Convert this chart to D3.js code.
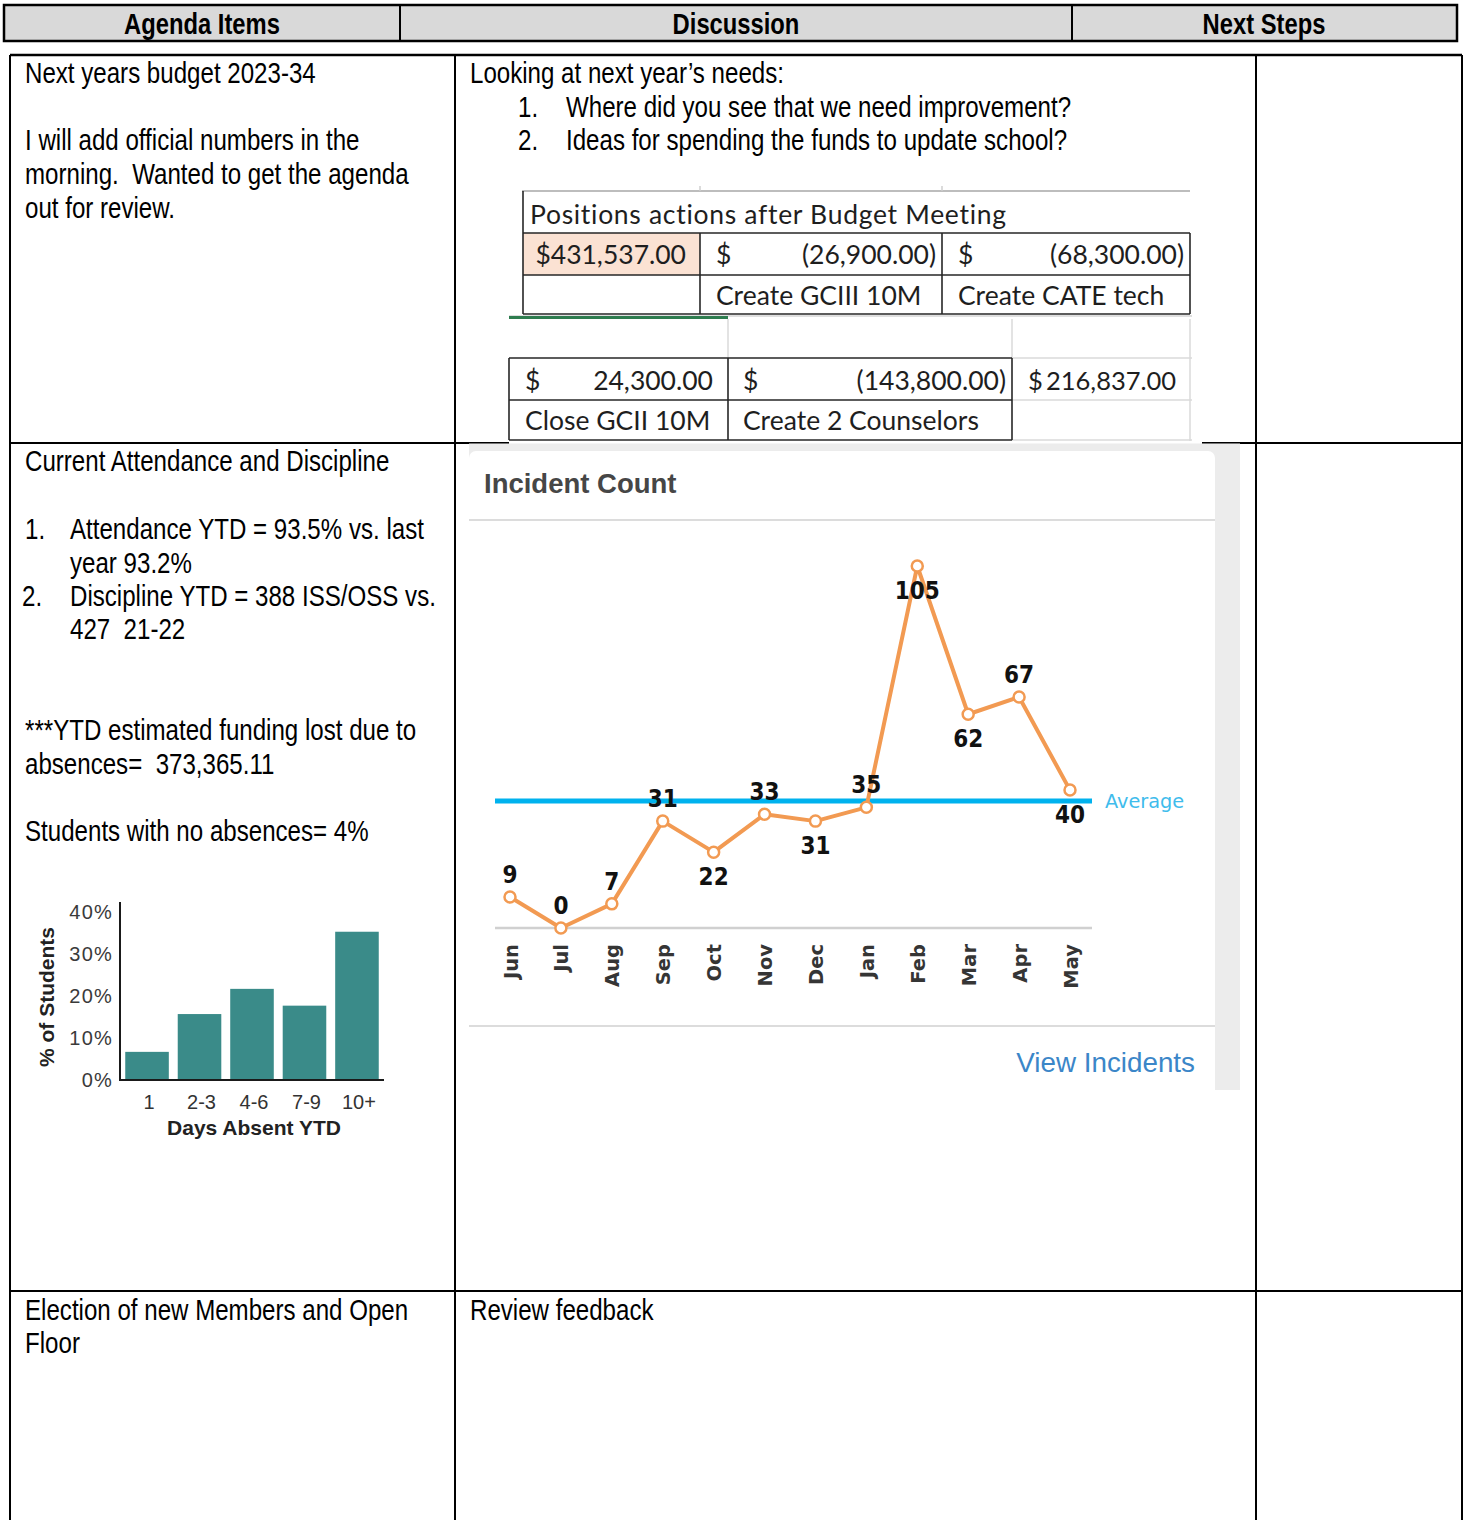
<!DOCTYPE html>
<html><head><meta charset="utf-8">
<script src="https://cdn.jsdelivr.net/npm/d3@7"></script>
<style>html,body{margin:0;padding:0;background:#fff;} svg{display:block;} text{white-space:pre;}</style>
</head><body><svg id="c" width="1464" height="1520"></svg>
<script>
// ---------------- data ----------------
const headerLabels = ["Agenda Items", "Discussion", "Next Steps"];
const months = ["Jun","Jul","Aug","Sep","Oct","Nov","Dec","Jan","Feb","Mar","Apr","May"];
const incidents = [9, 0, 7, 31, 22, 33, 31, 35, 105, 62, 67, 40];
const labelsBelow = ["Oct","Dec","Feb","Mar","May"];
const absenceBins = ["1", "2-3", "4-6", "7-9", "10+"];
const absencePct = [6.7, 15.7, 21.7, 17.7, 35.3];
const pctTicks = [0, 10, 20, 30, 40];
const budgetTitle = "Positions actions after Budget Meeting";
const budgetAmounts1 = ["$431,537.00", "(26,900.00)", "(68,300.00)"];
const budgetActions1 = ["", "Create GCIII 10M", "Create CATE tech"];
const budgetAmounts2 = ["24,300.00", "(143,800.00)", "216,837.00"];
const budgetActions2 = ["Close GCII 10M", "Create 2 Counselors", ""];

const svg = d3.select("#c");

// ---------- narrow font detection ----------
const probe = svg.append("g");
const p1 = probe.append("text").attr("font-family","'Liberation Sans Narrow','Liberation Sans'").attr("font-size",100).text("Agenda Items morning");
const p2 = probe.append("text").attr("font-family","'Liberation Sans'").attr("font-size",100).text("Agenda Items morning");
const hasNarrow = p1.node().getComputedTextLength() / p2.node().getComputedTextLength() < 0.9;
probe.remove();

function ntext(parent, x, y, str, o = {}) {
  const t = parent.append("text").text(str)
    .attr("font-size", o.size || 29.4)
    .attr("font-weight", o.weight || "normal")
    .attr("text-anchor", o.anchor || "start")
    .attr("fill", o.fill || "#000");
  if (hasNarrow) {
    t.attr("font-family", "'Liberation Sans Narrow','Arial Narrow',sans-serif").attr("x", x).attr("y", y);
  } else {
    t.attr("font-family", "'Liberation Sans',Arial,sans-serif")
     .attr("transform", `translate(${x},${y}) scale(0.82,1)`);
  }
  return t;
}
function ln(g, x1, y1, x2, y2, c, w) {
  return g.append("line").attr("x1",x1).attr("y1",y1).attr("x2",x2).attr("y2",y2)
    .attr("stroke",c).attr("stroke-width",w);
}

// ---------------- document table ----------------
const doc = svg.append("g");
doc.append("rect").attr("x",4).attr("y",5).attr("width",1453).attr("height",36)
  .attr("fill","#d9d9d9").attr("stroke","#000").attr("stroke-width",2.5);
ln(doc, 400, 5, 400, 41, "#000", 2);
ln(doc, 1072, 5, 1072, 41, "#000", 2);
const headerCenters = [202, 736, 1264];
headerLabels.forEach((h,i) => ntext(doc, headerCenters[i], 34, h, {weight:"bold", anchor:"middle", size:29}));

ln(doc, 10, 55, 1462, 55, "#000", 2.5);
ln(doc, 10, 55, 10, 1520, "#000", 2);
ln(doc, 1462, 55, 1462, 1520, "#000", 2);
ln(doc, 455, 55, 455, 1520, "#000", 2);
ln(doc, 1256, 55, 1256, 1520, "#000", 2);
ln(doc, 10, 443, 509, 443, "#000", 2);
ln(doc, 1202, 443, 1462, 443, "#000", 2);
ln(doc, 10, 1291, 1462, 1291, "#000", 2);

// left column texts
ntext(doc, 25, 83, "Next years budget 2023-34");
ntext(doc, 25, 150, "I will add official numbers in the");
ntext(doc, 25, 184, "morning.  Wanted to get the agenda");
ntext(doc, 25, 218, "out for review.");
ntext(doc, 25, 471, "Current Attendance and Discipline");
ntext(doc, 25, 539, "1.");
ntext(doc, 70, 539, "Attendance YTD = 93.5% vs. last");
ntext(doc, 70, 573, "year 93.2%");
ntext(doc, 22, 606, "2.");
ntext(doc, 70, 606, "Discipline YTD = 388 ISS/OSS vs.");
ntext(doc, 70, 639, "427  21-22");
ntext(doc, 25, 740, "***YTD estimated funding lost due to");
ntext(doc, 25, 774, "absences=  373,365.11");
ntext(doc, 25, 841, "Students with no absences= 4%");
ntext(doc, 25, 1320, "Election of new Members and Open");
ntext(doc, 25, 1353, "Floor");
// discussion column
ntext(doc, 470, 83, "Looking at next year\u2019s needs:");
ntext(doc, 518, 117, "1.");
ntext(doc, 566, 117, "Where did you see that we need improvement?");
ntext(doc, 518, 150, "2.");
ntext(doc, 566, 150, "Ideas for spending the funds to update school?");
ntext(doc, 470, 1320, "Review feedback");

// ---------------- budget table (spreadsheet snippet) ----------------
const bt = svg.append("g").attr("font-family","Lato,'Open Sans',sans-serif").attr("font-size",26.5).attr("fill","#1e1e1e");
bt.append("rect").attr("x",523).attr("y",233).attr("width",177).attr("height",42).attr("fill","#fbe2d3");
ln(bt, 522, 191, 1190, 191, "#bdbdbd", 2);
ln(bt, 700, 186, 700, 191, "#cfcfcf", 1.5);
ln(bt, 942, 186, 942, 191, "#cfcfcf", 1.5);
const dk = "#262626";
[233, 275, 314].forEach(y => ln(bt, 523, y, 1190, y, dk, 1.6));
ln(bt, 523, 191, 523, 314, dk, 1.6);
[700, 942, 1190].forEach(x => ln(bt, x, 233, x, 314, dk, 1.6));
ln(bt, 509, 316, 1192, 316, "#d4d4d4", 1.5);
ln(bt, 509, 317.5, 728, 317.5, "#2e7d4f", 3);
[728, 1012, 1190].forEach(x => ln(bt, x, 319, x, 358, "#dadada", 1.5));
ln(bt, 1190, 358, 1190, 441, "#dadada", 1.5);
[358, 400, 440].forEach(y => ln(bt, 1012, y, 1192, y, "#dadada", 1.5));
[358, 400, 440].forEach(y => ln(bt, 509, y, 1012, y, dk, 1.6));
[509, 728, 1012].forEach(x => ln(bt, x, 358, x, 440, dk, 1.6));
const txt = (x, y, s, a) => bt.append("text").attr("x",x).attr("y",y).attr("text-anchor",a||"start").text(s);
txt(530, 224, budgetTitle).attr("letter-spacing", 0.7);
txt(686, 264, budgetAmounts1[0], "end");
txt(716, 264, "$"); txt(936, 264, budgetAmounts1[1], "end");
txt(958, 264, "$"); txt(1184, 264, budgetAmounts1[2], "end");
txt(716, 305, budgetActions1[1]);
txt(958, 305, budgetActions1[2]);
txt(525, 390, "$"); txt(713, 390, budgetAmounts2[0], "end");
txt(743, 390, "$"); txt(1006, 390, budgetAmounts2[1], "end");
txt(1028, 390, "$\u2009" + budgetAmounts2[2]).attr("font-size", 25.5);
txt(525, 430, budgetActions2[0]);
txt(743, 430, budgetActions2[1]);

// ---------------- incident count widget ----------------
const ic = svg.append("g");
ic.append("rect").attr("x",469).attr("y",443.5).attr("width",771).attr("height",646.5).attr("fill","#ececec");
ic.append("rect").attr("x",469).attr("y",451).attr("width",746).attr("height",639).attr("rx",7).attr("fill","#fff");
ic.append("rect").attr("x",469).attr("y",480).attr("width",746).attr("height",610).attr("fill","#fff");
ic.append("text").attr("x",484).attr("y",493).attr("font-family","'Liberation Sans',Arial,sans-serif")
  .attr("font-size",27.5).attr("font-weight","bold").attr("fill","#464646").text("Incident Count");
ln(ic, 469, 520, 1215, 520, "#dcdcdc", 2);
ln(ic, 469, 1026, 1215, 1026, "#dcdcdc", 2);
ic.append("text").attr("x",1195).attr("y",1072).attr("text-anchor","end")
  .attr("font-family","'Liberation Sans',Arial,sans-serif").attr("font-size",27.8)
  .attr("fill","#3b86c8").text("View Incidents");

const xM = d3.scalePoint().domain(months).range([510, 1070]);
const yI = d3.scaleLinear().domain([0, d3.max(incidents)]).range([928, 566]);
const pts = months.map((m, i) => ({m, v: incidents[i]}));

ln(ic, 495, yI(0), 1092, yI(0), "#d0d0d0", 2.5);
const ax = ic.append("g").attr("transform", `translate(0,${yI(0)})`)
  .call(d3.axisBottom(xM).tickSize(0).tickPadding(0));
ax.select(".domain").remove();
ax.selectAll("text")
  .attr("y", 0).attr("x", 0).attr("dy", "0.36em")
  .attr("transform", "translate(0,16) rotate(-90)")
  .attr("text-anchor", "end")
  .attr("font-family", "'DejaVu Sans',Verdana,sans-serif")
  .attr("font-size", 19.5).attr("font-weight", "bold").attr("fill", "#353535");

const avg = d3.mean(incidents);
ln(ic, 495, yI(avg), 1092, yI(avg), "#00b2ee", 5);
ic.append("text").attr("x",1105).attr("y",yI(avg)+7).attr("font-family","'DejaVu Sans',Verdana,sans-serif")
  .attr("font-size",19.3).attr("fill","#3fbcec").text("Average");

const orange = "#f29a52";
ic.append("path").datum(pts)
  .attr("d", d3.line().x(d => xM(d.m)).y(d => yI(d.v)))
  .attr("fill","none").attr("stroke",orange).attr("stroke-width",4).attr("stroke-linejoin","round");
ic.selectAll("circle.pt").data(pts).join("circle").attr("class","pt")
  .attr("cx", d => xM(d.m)).attr("cy", d => yI(d.v)).attr("r", 5.5)
  .attr("fill","#fff").attr("stroke",orange).attr("stroke-width",2.5);
ic.selectAll("text.lbl").data(pts).join("text").attr("class","lbl")
  .attr("x", d => xM(d.m))
  .attr("y", d => yI(d.v) + (labelsBelow.includes(d.m) ? 33 : -14))
  .attr("text-anchor","middle")
  .attr("font-family","'DejaVu Sans Condensed','DejaVu Sans',sans-serif")
  .attr("font-size",24).attr("font-weight","bold").attr("fill","#111")
  .text(d => d.v);

// ---------------- absence bar chart ----------------
const bc = svg.append("g");
const xB = d3.scaleBand().domain(absenceBins).range([120, 384]).paddingInner(0.17).paddingOuter(0.1);
const yB = d3.scaleLinear().domain([0, 40]).range([1080, 912]);
bc.selectAll("rect.bar").data(absenceBins).join("rect").attr("class","bar")
  .attr("x", d => xB(d)).attr("width", xB.bandwidth())
  .attr("y", (d, i) => yB(absencePct[i])).attr("height", (d, i) => yB(0) - yB(absencePct[i]))
  .attr("fill", "#3a8b89");
ln(bc, 120, 902, 120, 1081, "#1a1a1a", 2);
ln(bc, 119, 1080, 384, 1080, "#1a1a1a", 2);
bc.selectAll("text.yt").data(pctTicks).join("text").attr("class","yt")
  .attr("x", 113).attr("y", d => yB(d) + 7).attr("text-anchor","end")
  .attr("font-family","'Liberation Sans',Arial,sans-serif").attr("font-size",20)
  .attr("letter-spacing",1.2).attr("fill","#3a3a3a").text(d => d + "%");
bc.selectAll("text.xt").data(absenceBins).join("text").attr("class","xt")
  .attr("x", d => xB(d) + xB.bandwidth()/2 + 2).attr("y", 1109).attr("text-anchor","middle")
  .attr("font-family","'Liberation Sans',Arial,sans-serif").attr("font-size",20)
  .attr("fill","#333").text(d => d);
bc.append("text").attr("transform","translate(54,997) rotate(-90)").attr("text-anchor","middle")
  .attr("font-family","'Liberation Sans',Arial,sans-serif").attr("font-size",21).attr("font-weight","bold")
  .attr("fill","#222").text("% of Students");
bc.append("text").attr("x",254).attr("y",1135).attr("text-anchor","middle")
  .attr("font-family","'Liberation Sans',Arial,sans-serif").attr("font-size",21).attr("font-weight","bold")
  .attr("fill","#222").text("Days Absent YTD");
</script>
</body></html>
